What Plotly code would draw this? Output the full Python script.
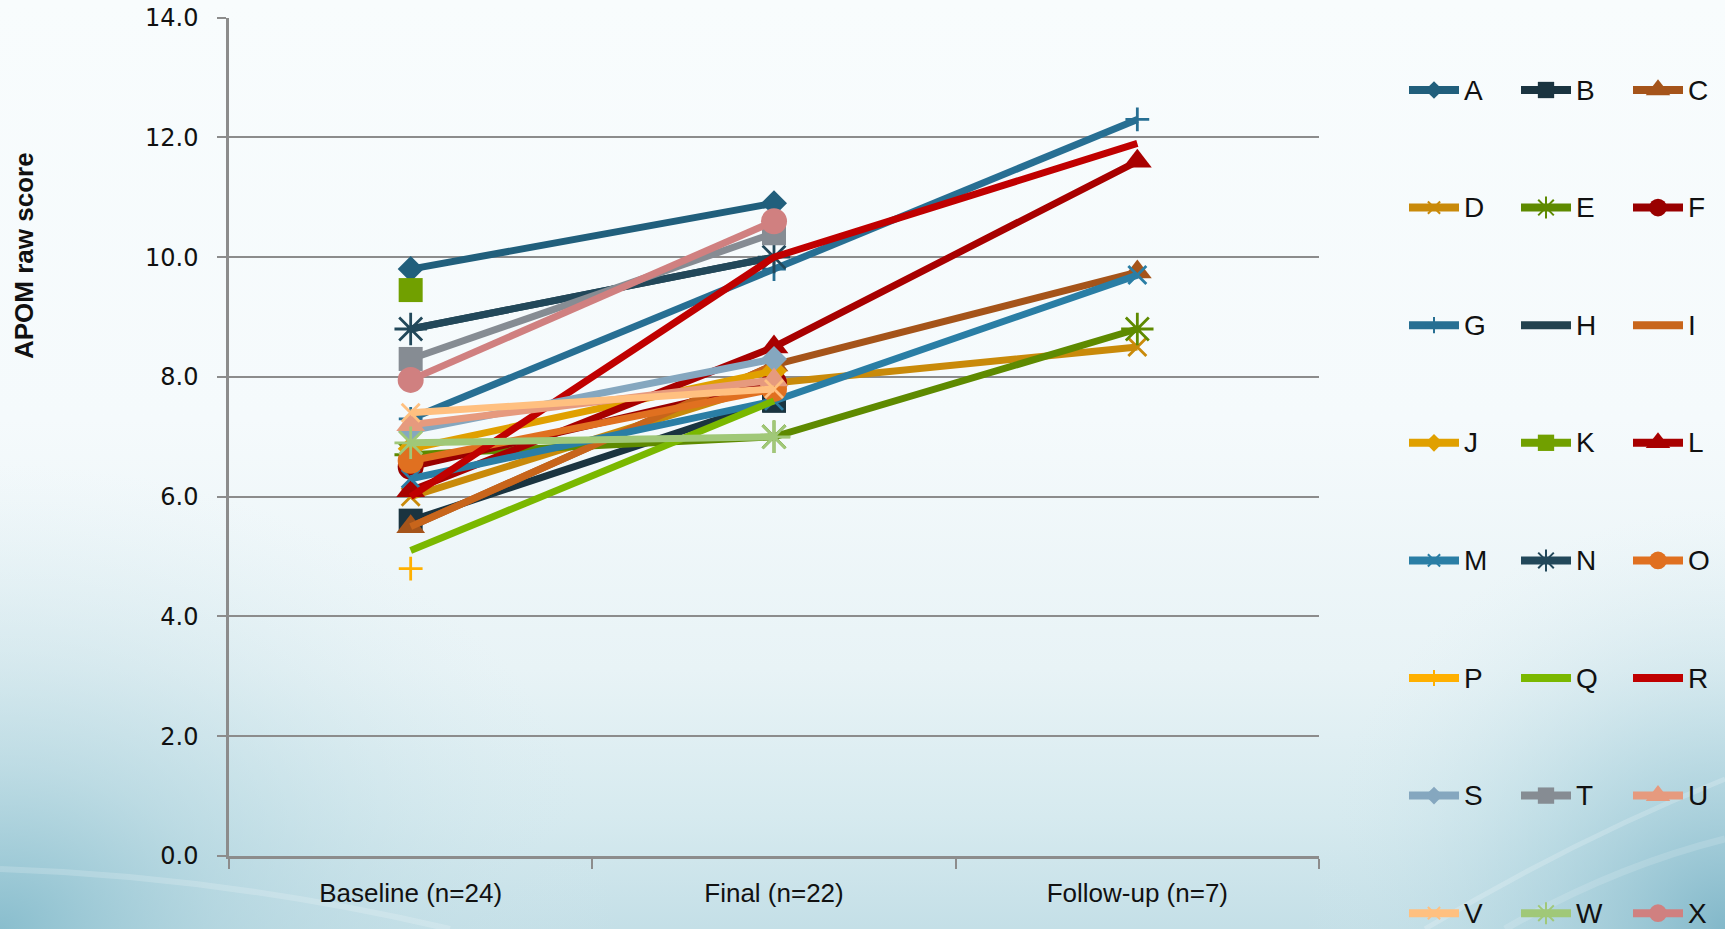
import base64
import plotly.graph_objects as go

# ---- data -------------------------------------------------------------
categories = ["Baseline (n=24)", "Final (n=22)", "Follow-up (n=7)"]
series = list("ABCDEFGHIJKLMNOPQRSTUVWX")

baseline = [9.8, 5.6, 5.5, 6.0, 6.7, 6.5, 7.3, 8.8, 5.5, 6.8, 9.45, 6.1,
            6.3, 8.8, 6.6, 4.8, 5.1, 6.0, 7.1, 8.3, 7.2, 7.4, 6.9, 7.95]
final = [10.9, 7.6, 8.2, 7.9, 7.0, 7.9, 9.8, 10.0, 8.2, 8.1, None, 8.5,
         7.6, 10.0, 7.8, None, 7.6, 10.0, 8.3, 10.4, 7.95, 7.8, 7.0, 10.6]
follow_up = [None, None, 9.75, 8.5, 8.8, None, 12.3, None, None, None, None, 11.6,
             9.7, None, None, None, None, 11.9, None, None, None, None, None, None]

y_ticks = [0, 2, 4, 6, 8, 10, 12, 14]

# ---- styles -----------------------------------------------------------
colors = ["#215f7c", "#1a3440", "#a5541a", "#c98a0a", "#5e8a00", "#990000",
          "#276f93", "#22424f", "#c8651b", "#e0a000", "#71a000", "#a80000",
          "#2a7ea5", "#22485a", "#e07020", "#ffb000", "#7ab800", "#c00000",
          "#85a7bf", "#868c93", "#e69a7e", "#ffc080", "#a0c878", "#d08080"]
symbols = ["diamond", "square", "triangle-up", "x-thin-open", "asterisk-open", "circle",
           "cross-thin-open", None, None, "diamond", "square", "triangle-up",
           "x-thin-open", "asterisk-open", "circle", "cross-thin-open", None, None,
           "diamond", "square", "triangle-up", "x-thin-open", "asterisk-open", "circle"]
sym_size = {"diamond": 20, "square": 24, "triangle-up": 25, "x-thin-open": 18,
            "asterisk-open": 27, "circle": 26, "cross-thin-open": 17}
legend_scale = {"triangle-up": 0.85}

W, H = 1725, 929
GRID = "#8c8c8c"
TEXT_FONT = "Liberation Sans, Arial, Roboto, sans-serif"


def marker_for(sym, color, scale=1.0):
    if sym is None:
        return dict(size=0, color=color)
    size = sym_size[sym] * scale
    if sym.endswith("-open"):
        return dict(symbol=sym, size=size, color=color,
                    line=dict(color=color, width=2.8 if scale == 1 else 2.0))
    return dict(symbol=sym, size=size, color=color, line=dict(width=0))


fig = go.Figure()

# ---- series lines -----------------------------------------------------
for i, name in enumerate(series):
    ys = [baseline[i], final[i], follow_up[i]]
    fig.add_trace(go.Scatter(
        x=categories, y=ys, name=name,
        mode="lines+markers" if symbols[i] else "lines",
        line=dict(color=colors[i], width=7),
        marker=marker_for(symbols[i], colors[i]),
        connectgaps=False, showlegend=False, hoverinfo="x+y+name",
        xaxis="x", yaxis="y",
    ))

# ---- legend grid (3 columns) drawn on a pixel-unit overlay axis ---------
leg_x0, leg_dx, leg_half = 1434, 112, 25
leg_y0, leg_dy = 90, 117.6
annotations = []
for i, name in enumerate(series):
    col, row = i % 3, i // 3
    cx = leg_x0 + col * leg_dx
    cy = leg_y0 + row * leg_dy
    fig.add_trace(go.Scatter(
        x=[cx - leg_half, cx + leg_half], y=[cy, cy], mode="lines",
        line=dict(color=colors[i], width=8), showlegend=False, hoverinfo="skip",
        xaxis="x2", yaxis="y2",
    ))
    if symbols[i]:
        fig.add_trace(go.Scatter(
            x=[cx], y=[cy], mode="markers",
            marker=marker_for(symbols[i], colors[i],
                              scale=legend_scale.get(symbols[i], 0.68)),
            showlegend=False, hoverinfo="skip", xaxis="x2", yaxis="y2",
        ))
    annotations.append(dict(
        x=cx + leg_half + 3, y=cy, xref="x2", yref="y2", text=name,
        showarrow=False, xanchor="left", yanchor="middle",
        font=dict(family=TEXT_FONT, size=28, color="#111111"),
    ))

# y-axis title
annotations.append(dict(
    x=24, y=256, xref="x2", yref="y2", text="<b>APOM raw score</b>",
    showarrow=False, textangle=-90, xanchor="center", yanchor="middle",
    font=dict(family=TEXT_FONT, size=26, color="#111111"),
))

# ---- background ---------------------------------------------------------
svg = f"""<svg xmlns='http://www.w3.org/2000/svg' width='{W}' height='{H}' viewBox='0 0 {W} {H}' preserveAspectRatio='none'>
<defs>
<linearGradient id='v' x1='0' y1='0' x2='0' y2='1'>
<stop offset='0' stop-color='#f8fcfd'/>
<stop offset='0.45' stop-color='#f5fafc'/>
<stop offset='0.72' stop-color='#e8f3f6'/>
<stop offset='0.88' stop-color='#d6eaef'/>
<stop offset='1' stop-color='#c4dfe7'/>
</linearGradient>
<radialGradient id='bl' cx='0' cy='{H}' r='620' gradientUnits='userSpaceOnUse' gradientTransform='translate(0 {H}) scale(1 0.75) translate(0 -{H})'>
<stop offset='0' stop-color='#86bccc' stop-opacity='0.95'/>
<stop offset='0.35' stop-color='#a9d0db' stop-opacity='0.6'/>
<stop offset='1' stop-color='#d8ebf0' stop-opacity='0'/>
</radialGradient>
<radialGradient id='br' cx='{W}' cy='{H}' r='420' gradientUnits='userSpaceOnUse'>
<stop offset='0' stop-color='#7fb6c8' stop-opacity='0.95'/>
<stop offset='0.5' stop-color='#a6cfdb' stop-opacity='0.45'/>
<stop offset='1' stop-color='#d8ebf0' stop-opacity='0'/>
</radialGradient>
</defs>
<rect width='{W}' height='{H}' fill='url(#v)'/>
<rect width='{W}' height='{H}' fill='url(#bl)'/>
<rect width='{W}' height='{H}' fill='url(#br)'/>
<path d='M0 {H-60} C 150 {H-55}, 300 {H-35}, 450 {H}' stroke='#ffffff' stroke-opacity='0.18' stroke-width='6' fill='none'/>
<path d='M{W-300} {H} C {W-200} {H-60}, {W-100} {H-110}, {W} {H-150}' stroke='#ffffff' stroke-opacity='0.2' stroke-width='5' fill='none'/>
<path d='M{W-220} {H} C {W-150} {H-40}, {W-80} {H-70}, {W} {H-90}' stroke='#ffffff' stroke-opacity='0.15' stroke-width='7' fill='none'/>
</svg>"""
bg_uri = "data:image/svg+xml;base64," + base64.b64encode(svg.encode()).decode()

# plot area in pixels
px_left, px_right = 229, 1319
px_top, px_bottom = 17.6, 856

fig.update_layout(
    template="none",
    width=W, height=H,
    margin=dict(l=0, r=0, t=0, b=0),
    paper_bgcolor="#eef6f8",
    plot_bgcolor="rgba(0,0,0,0)",
    showlegend=False,
    annotations=annotations,
    images=[dict(source=bg_uri, xref="paper", yref="paper", x=0, y=1,
                 sizex=1, sizey=1, sizing="stretch", layer="below",
                 xanchor="left", yanchor="top")],
    xaxis=dict(
        domain=[px_left / W, px_right / W],
        type="category", categoryorder="array", categoryarray=categories,
        range=[-0.5, 2.5], automargin=False,
        showgrid=False, zeroline=False,
        showline=True, linecolor=GRID, linewidth=2.5,
        ticks="outside", tickson="boundaries", ticklen=10, tickwidth=2, tickcolor=GRID,
        ticklabelstandoff=12,
        tickfont=dict(family=TEXT_FONT, size=26, color="#111111"),
    ),
    yaxis=dict(
        domain=[(H - px_bottom) / H, (H - px_top) / H],
        range=[0, 14], automargin=False,
        tickvals=y_ticks, tickformat=".1f",
        showgrid=True, gridcolor=GRID, gridwidth=2, zeroline=False,
        showline=True, linecolor=GRID, linewidth=2.5,
        ticks="outside", ticklen=9, tickwidth=2, tickcolor=GRID,
        ticklabelstandoff=14,
        tickfont=dict(family="DejaVu Sans", size=24, color="#111111"),
    ),
    xaxis2=dict(domain=[0, 1], range=[0, W], visible=False, fixedrange=True),
    yaxis2=dict(domain=[0, 1], range=[H, 0], visible=False, fixedrange=True),
)

fig.write_html("out.html")
